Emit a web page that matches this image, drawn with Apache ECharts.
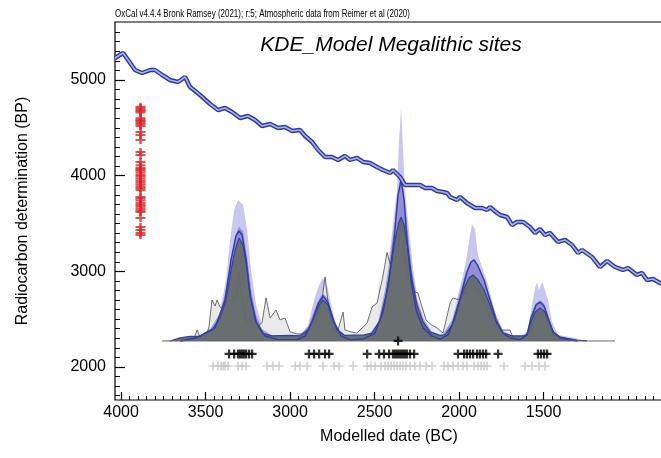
<!DOCTYPE html>
<html>
<head>
<meta charset="utf-8">
<script src="https://cdn.jsdelivr.net/npm/echarts@6/dist/echarts.min.js"></script>
<style>
  html, body { margin: 0; padding: 0; background: #fff; }
  #chart { width: 661px; height: 458px; }
</style>
</head>
<body>
<div id="chart"></div>
<script>
// calibration curve (IntCal20 as drawn), modelled date BC -> radiocarbon BP
const calYears = [4036, 3988, 3917, 3876, 3828, 3799, 3757, 3710, 3663, 3621, 3592, 3533, 3473, 3426, 3385, 3343,
  3296, 3249, 3207, 3166, 3118, 3071, 3030, 2988, 2941, 2911, 2870, 2834, 2793, 2752, 2716, 2675, 2645, 2604,
  2568, 2527, 2485, 2450, 2408, 2391, 2349, 2320, 2278, 2231, 2201, 2160, 2130, 2095, 2071, 2053, 2012, 1994,
  1953, 1905, 1864, 1834, 1817, 1775, 1757, 1716, 1686, 1657, 1621, 1580, 1550, 1521, 1491, 1462, 1414, 1373,
  1331, 1296, 1272, 1213, 1166, 1124, 1077, 1030, 1000, 947, 917, 888, 852, 811, 793]
const calBP = [5230, 5282, 5104, 5073, 5104, 5104, 5052, 5000, 4979, 5031, 4927, 4843, 4749, 4686, 4707, 4665,
  4603, 4624, 4582, 4519, 4540, 4498, 4509, 4467, 4477, 4415, 4352, 4268, 4195, 4195, 4164, 4206, 4164, 4185,
  4143, 4132, 4091, 4059, 4028, 4059, 3986, 3902, 3902, 3902, 3871, 3871, 3840, 3829, 3819, 3777, 3746, 3777,
  3714, 3662, 3662, 3641, 3672, 3610, 3589, 3568, 3484, 3516, 3516, 3463, 3401, 3442, 3380, 3401, 3307, 3328,
  3275, 3192, 3223, 3150, 3045, 3108, 3045, 3014, 3035, 2962, 2983, 2909, 2920, 2878, 2868]

// radiocarbon measurements (red, plotted on the BP axis)
const measuredBP = [4720, 4705, 4690, 4675, 4660, 4600, 4585, 4570, 4555, 4540, 4520, 4456, 4425, 4373, 4247,
  4216, 4143, 4110, 4080, 4065, 4050, 4030, 4007, 3990, 3970, 3950, 3930, 3910, 3890, 3870, 3850, 3777, 3760,
  3740, 3714, 3693, 3675, 3655, 3635, 3620, 3557, 3463, 3432, 3400, 3380]
const measuredColumnYear = 3885

// modelled dates (black) and unmodelled dates (grey), BC
const modelledDates = [3361, 3331, 3308, 3296, 3284, 3272, 3260, 3243, 3225, 2888, 2858, 2828, 2793, 2769, 2544,
  2473, 2444, 2414, 2391, 2379, 2367, 2355, 2343, 2331, 2320, 2308, 2290, 2266, 2006, 1970, 1953, 1935, 1917,
  1893, 1876, 1858, 1840, 1769, 1533, 1515, 1497, 1479]
const unmodelledDates = [3456, 3426, 3408, 3396, 3385, 3367, 3308, 3284, 3260, 3136, 3101, 3065, 2970, 2941, 2899,
  2805, 2740, 2710, 2627, 2544, 2521, 2497, 2462, 2438, 2420, 2402, 2385, 2367, 2349, 2331, 2314, 2290, 2261,
  2231, 2195, 2160, 2089, 2065, 2036, 2006, 1976, 1953, 1911, 1888, 1870, 1852, 1834, 1734, 1610, 1568, 1527, 1491]
const kdeMeanDate = 2361

// KDE plot layers: [year BC, relative height 0-100]
const kdeBase = 2272
const kdeUnit = 24.35
const envelopeUpper = [[3757, 0], [3651, 0.5], [3600, 1], [3562, 1.3], [3473, 4.7], [3414, 13.3], [3379, 26.2],
  [3355, 43.3], [3331, 56.2], [3308, 60.5], [3278, 58.4], [3254, 47.6], [3231, 30.5], [3201, 15.5], [3166, 6.9],
  [3118, 3.4], [3030, 1.7], [2970, 1.7], [2941, 2.1], [2893, 6.9], [2858, 17.6], [2828, 24], [2805, 27],
  [2781, 24], [2757, 15.5], [2728, 6.9], [2686, 2.1], [2600, 1.7], [2540, 2], [2515, 2.5], [2497, 4.7],
  [2479, 12], [2473, 28.3], [2467, 17.6], [2450, 24.0], [2408, 39.1], [2385, 54.1], [2367, 64.8], [2355, 86.3],
  [2343, 100], [2331, 81.5], [2320, 64.8], [2296, 47.6], [2272, 30.5], [2243, 17.6], [2207, 8.2], [2160, 3.4],
  [2112, 1.7], [2083, 2.6], [2041, 11.2], [2006, 19.7], [1976, 28.3], [1953, 36.9], [1935, 45.5], [1923, 50.2],
  [1905, 47.6], [1888, 36.9], [1858, 30.5], [1828, 24.0], [1799, 15.5], [1769, 8.2], [1728, 3.0], [1669, 1.3],
  [1620, 1.3], [1592, 4.7], [1568, 15.5], [1550, 22.7], [1539, 25.3], [1527, 21.9], [1509, 25.3], [1497, 23.2],
  [1473, 17.6], [1450, 8.2], [1414, 2.6], [1314, 1.3], [1243, 0]]
const spdSum = [[3640, 0], [3600, 0.5], [3570, 1], [3550, 4.7], [3530, 1.2], [3500, 1.5], [3480, 6],
  [3462, 17.6], [3444, 15], [3432, 17.6], [3414, 14.5], [3396, 13.3], [3379, 15], [3355, 17.6], [3331, 17.5],
  [3314, 19], [3302, 29.2], [3290, 20], [3266, 10], [3237, 6.0], [3195, 5.6], [3166, 8], [3142, 18.5],
  [3118, 9.9], [3083, 13.3], [3059, 9.0], [3030, 9.9], [3000, 3.9], [2959, 3.0], [2899, 3.0], [2840, 9],
  [2811, 17.6], [2793, 27.5], [2775, 16.3], [2752, 4.7], [2722, 3.4], [2686, 12.4], [2675, 4.7], [2645, 4.0],
  [2604, 3.4], [2544, 7.7], [2515, 14.6], [2485, 16.3], [2450, 28], [2426, 38], [2408, 33], [2379, 36],
  [2361, 39.1], [2343, 52], [2325, 37], [2302, 28], [2278, 21.5], [2243, 20.6], [2225, 16], [2195, 9.0],
  [2165, 7], [2130, 5.6], [2095, 3.4], [2053, 16.3], [2036, 18.5], [1994, 17.5], [1953, 21.9], [1923, 24.9],
  [1894, 21.9], [1858, 18.9], [1817, 10.3], [1775, 4.7], [1698, 4.7], [1680, 1.3], [1590, 1.3], [1556, 9.0],
  [1521, 12.0], [1491, 10], [1462, 4.7], [1432, 0.5], [1420, 0]]
const sigmaBand = [[3600, 0], [3540, 2], [3470, 5.5], [3414, 12], [3379, 22], [3349, 36], [3320, 46],
  [3302, 49], [3278, 47], [3254, 36], [3231, 22], [3201, 11], [3166, 5], [3107, 2.5], [3000, 2.5], [2950, 2.5],
  [2893, 6], [2858, 13], [2828, 18], [2805, 20.5], [2775, 18], [2752, 12], [2722, 6], [2675, 2.5], [2580, 2.5],
  [2530, 3], [2479, 8], [2438, 22], [2408, 36], [2385, 48], [2361, 62], [2343, 72], [2325, 62], [2302, 46],
  [2278, 30], [2249, 18], [2207, 9], [2160, 4], [2112, 2.5], [2100, 2.5], [2041, 9], [2006, 18], [1970, 27],
  [1941, 33], [1917, 35], [1888, 32], [1852, 26], [1817, 19], [1781, 11], [1740, 4.5], [1686, 2], [1630, 2],
  [1598, 4], [1574, 11], [1544, 16], [1521, 17.5], [1497, 16], [1473, 11], [1444, 4.5], [1402, 2], [1300, 0.5],
  [1243, 0]]
const kdeModel = [[3710, 0], [3651, 1.3], [3592, 2.0], [3533, 2.1], [3462, 4.7], [3414, 9.9], [3379, 17.6],
  [3349, 30.5], [3325, 39.1], [3302, 44.2], [3278, 41.2], [3254, 30.5], [3231, 17.6], [3201, 8.2], [3166, 3.4],
  [3107, 2.2], [3000, 2.4], [2941, 2.2], [2893, 4.7], [2858, 10.3], [2828, 15.5], [2805, 17.6], [2775, 15.5],
  [2752, 9.9], [2722, 4.7], [2675, 2.4], [2560, 2.6], [2515, 3.4], [2467, 9.0], [2432, 19.7], [2402, 32.6],
  [2379, 43.3], [2355, 51.1], [2343, 53.2], [2325, 49.8], [2302, 39.1], [2278, 26.2], [2249, 15.5], [2213, 8.2],
  [2172, 3.9], [2112, 2.4], [2083, 2.6], [2041, 6.9], [2006, 15.5], [1970, 22.7], [1941, 27.0], [1917, 28.3],
  [1888, 26.2], [1852, 21.9], [1817, 15.5], [1781, 8.2], [1740, 3.4], [1686, 2.2], [1620, 2.2], [1598, 2.6],
  [1574, 8.2], [1550, 12.4], [1521, 14.2], [1491, 12.4], [1467, 8.2], [1438, 3.4], [1402, 1.7], [1300, 0.3],
  [1243, 0]]
const kdeMean = [[3651, 0], [3550, 1.5], [3444, 5.6], [3385, 17.6], [3349, 34.8], [3320, 45.1], [3302, 47.2],
  [3284, 45.5], [3260, 34.8], [3237, 19.7], [3201, 8.2], [3148, 2.1], [3077, 0.6], [2959, 0.5], [2911, 2.1],
  [2870, 8.2], [2834, 15.9], [2805, 19.3], [2775, 16.3], [2740, 8.2], [2698, 2.1], [2645, 0.5], [2568, 0.8],
  [2497, 3.4], [2450, 12.4], [2414, 26.2], [2385, 43.3], [2361, 62.7], [2343, 69.1], [2325, 60.5], [2308, 43.3],
  [2284, 26.2], [2254, 13.3], [2213, 5.6], [2160, 2.1], [2112, 0.8], [2065, 2.6], [2024, 9.9], [1988, 19.7],
  [1953, 29.6], [1929, 33.9], [1911, 34.8], [1888, 32.2], [1852, 26.2], [1817, 17.6], [1781, 9.0], [1740, 3.4],
  [1698, 1.3], [1640, 0.5], [1598, 2.6], [1574, 9.9], [1544, 15.5], [1521, 16.7], [1497, 15.0], [1473, 9.9],
  [1444, 3.9], [1402, 1.3], [1300, 0]]
const kdeStart = 3757
const kdeEnd = 1077

// axis ranges
const xMax = 4036
const xMin = 793
const yMax = 5606
const yMin = 1655
const rowModelledBP = 2136
const rowUnmodelledBP = 2010

const FONT = 'Liberation Sans, Arial, Helvetica, sans-serif'
const BLUE = '#3140a4'
const plusPath = 'path://M15,0H25V15H40V25H25V40H15V25H0V15H15Z'
const thinPlusPath = 'path://M16.5,0H23.5V16.5H40V23.5H23.5V40H16.5V23.5H0V16.5H16.5Z'

// layout of the plot box (pixels)
const plotLeft = 115
const plotTop = 22
const plotBottom = 400
const pxPerYear = 0.169
const pxPerBP = (plotBottom - plotTop) / (yMax - yMin)
const yPx = (v) => plotTop + (yMax - v) * pxPerBP
const xPx = (v) => plotLeft + (xMax - v) * pxPerYear

const toBP = (pts) => pts.map((p) => [p[0], kdeBase + p[1] * kdeUnit])

const areaLayer = (name, pts, fill, line, z) => ({
  name,
  type: 'line',
  data: toBP(pts),
  symbol: 'none',
  smooth: false,
  z,
  lineStyle: line || { width: 0 },
  areaStyle: { color: fill, opacity: 1, origin: kdeBase },
})

const chart = echarts.init(document.getElementById('chart'), null, { renderer: 'canvas' })

const hiddenX = (gridIndex) => ({ gridIndex, type: 'value', show: false, min: 0, max: 1 })
const hiddenY = (gridIndex) => ({ gridIndex, type: 'value', show: false, min: 0, max: 1 })
const noGrid = { outerBoundsMode: 'none', containLabel: false }
const plain = (v) => String(v)

const option = {
  animation: false,
  backgroundColor: '#fff',
  textStyle: { fontFamily: FONT },
  grid: [
    { ...noGrid, left: plotLeft, top: plotTop, right: -2, bottom: 458 - plotBottom, show: true,
      borderColor: '#000', borderWidth: 1.2, backgroundColor: 'transparent' },
    { ...noGrid, left: xPx(4000), top: plotTop, width: (4000 - 800) * pxPerYear, bottom: 458 - plotBottom },
    { ...noGrid, left: xPx(4000), top: plotTop, width: (4000 - 1500) * pxPerYear, bottom: 458 - plotBottom },
    { ...noGrid, left: plotLeft, right: -2, top: yPx(5500), bottom: 458 - yPx(1700) },
    { ...noGrid, left: plotLeft, right: -2, top: yPx(5000), bottom: 458 - yPx(2000) },
  ],
  xAxis: [
    {
      gridIndex: 0, type: 'value', min: xMin, max: xMax, inverse: true,
      axisLine: { show: false }, axisTick: { show: false }, axisLabel: { show: false }, splitLine: { show: false },
      name: 'Modelled date (BC)', nameLocation: 'middle', nameGap: 29,
      nameTextStyle: { fontFamily: FONT, fontSize: 16, color: '#000' },
    },
    {
      gridIndex: 1, type: 'value', min: 800, max: 4000, interval: 50, inverse: true,
      axisLine: { show: false }, axisLabel: { show: false }, splitLine: { show: false },
      axisTick: { inside: true, length: 4, lineStyle: { color: '#000', width: 1 } },
    },
    {
      gridIndex: 2, type: 'value', min: 1500, max: 4000, interval: 500, inverse: true,
      axisLine: { show: false }, splitLine: { show: false },
      axisTick: { inside: true, length: 8, lineStyle: { color: '#000', width: 1.2 } },
      axisLabel: { fontFamily: FONT, fontSize: 16, color: '#000', margin: 5, formatter: plain },
    },
    hiddenX(3),
    hiddenX(4),
  ],
  yAxis: [
    {
      gridIndex: 0, type: 'value', min: yMin, max: yMax,
      axisLine: { show: false }, axisTick: { show: false }, axisLabel: { show: false }, splitLine: { show: false },
      name: 'Radiocarbon determination (BP)', nameLocation: 'middle', nameGap: 84,
      nameTextStyle: { fontFamily: FONT, fontSize: 16, color: '#000' },
    },
    hiddenY(1),
    hiddenY(2),
    {
      gridIndex: 3, type: 'value', min: 1700, max: 5500, interval: 100,
      axisLine: { show: false }, axisLabel: { show: false }, splitLine: { show: false },
      axisTick: { inside: true, length: 5, lineStyle: { color: '#000', width: 1 } },
    },
    {
      gridIndex: 4, type: 'value', min: 2000, max: 5000, interval: 1000,
      axisLine: { show: false }, splitLine: { show: false },
      axisTick: { inside: true, length: 10, lineStyle: { color: '#000', width: 1.2 } },
      axisLabel: { fontFamily: FONT, fontSize: 16, color: '#000', margin: 9, formatter: plain },
    },
    {
      gridIndex: 4, type: 'value', min: 2000, max: 5000, interval: 1000,
      axisLine: { show: false }, splitLine: { show: false }, axisLabel: { show: false },
      axisTick: { inside: false, length: 5, lineStyle: { color: '#000', width: 1.2 } },
    },
  ],
  graphic: [
    {
      type: 'text', x: plotLeft, y: 20, scaleX: 0.76, z: 100,
      style: {
        text: 'OxCal v4.4.4 Bronk Ramsey (2021); r:5; Atmospheric data from Reimer et al (2020)',
        font: '10.5px ' + FONT, fill: '#000', align: 'left', verticalAlign: 'bottom',
      },
    },
    {
      type: 'text', x: (plotLeft + 661) / 2 + 3, y: 45, z: 100,
      style: {
        text: 'KDE_Model Megalithic sites', font: 'italic 21px ' + FONT, fill: '#000',
        align: 'center', verticalAlign: 'middle',
      },
    },
  ],
  series: [
    areaLayer('Upper envelope', envelopeUpper, '#c9c6f0', null, 2),
    areaLayer('Unmodelled sum', spdSum, 'rgba(232,232,232,0.93)', { color: '#333', width: 0.7 }, 3),
    areaLayer('KDE variability', sigmaBand, 'rgba(95,85,185,0.5)', null, 4),
    areaLayer('KDE model', kdeModel, 'rgba(100,106,104,0.93)', { color: BLUE, width: 1.2 }, 5),
    {
      name: 'KDE mean', type: 'line', data: toBP(kdeMean), symbol: 'none', z: 6,
      lineStyle: { color: BLUE, width: 1.5 },
    },
    {
      name: 'Baseline', type: 'line', data: [[kdeStart, kdeBase], [kdeEnd, kdeBase]], symbol: 'none', z: 7,
      lineStyle: { color: '#666', width: 1 },
    },
    {
      name: 'Modelled dates', type: 'scatter', symbol: plusPath, symbolSize: 9, z: 8,
      itemStyle: { color: '#000' },
      data: modelledDates.map((d) => [d, rowModelledBP]).concat([[kdeMeanDate, kdeBase]]),
    },
    {
      name: 'Unmodelled dates', type: 'scatter', symbol: thinPlusPath, symbolSize: 9, z: 8,
      itemStyle: { color: '#c4c4c4' },
      data: unmodelledDates.map((d) => [d, rowUnmodelledBP]),
    },
    {
      name: 'Measurements', type: 'scatter', symbol: plusPath, symbolSize: [10, 8], z: 8,
      itemStyle: { color: '#d9262a' },
      data: measuredBP.map((v) => [measuredColumnYear, v]),
    },
    {
      name: 'Calibration curve', type: 'line', symbol: 'none', z: 9,
      data: calYears.map((yr, i) => [yr, calBP[i]]),
      lineStyle: { color: '#2e3b9c', width: 4.5 },
    },
    {
      name: 'Calibration curve centre', type: 'line', symbol: 'none', z: 10,
      data: calYears.map((yr, i) => [yr, calBP[i]]),
      lineStyle: { color: '#aab2e8', width: 1.6 },
    },
  ],
}

chart.setOption(option)
</script>
</body>
</html>
